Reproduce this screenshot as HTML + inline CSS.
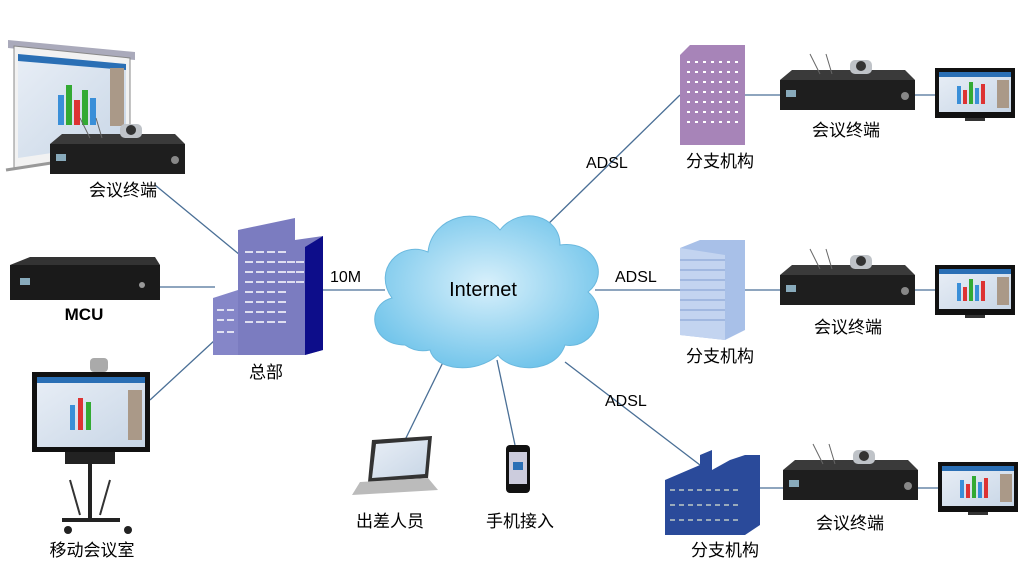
<!DOCTYPE html>
<html><head><meta charset="utf-8"><style>
body{margin:0;background:#fff;width:1024px;height:585px;overflow:hidden}
svg{display:block}
text{font-family:"Liberation Sans","Noto Sans CJK SC",sans-serif;fill:#000}
</style></head><body>
<svg width="1024" height="585" viewBox="0 0 1024 585">
<defs>
<radialGradient id="cl" cx="50%" cy="45%" r="60%"><stop offset="0" stop-color="#d8f0fb"/><stop offset="1" stop-color="#6ec3ea"/></radialGradient>
<linearGradient id="scr" x1="0" y1="0" x2="1" y2="1"><stop offset="0" stop-color="#e8eef6"/><stop offset="1" stop-color="#c8d6e6"/></linearGradient>
<g id="dev">
 <rect x="0" y="22" width="135" height="30" fill="#1e1e1e"/>
 <polygon points="0,22 12,12 125,12 135,22" fill="#3a3a3a"/>
 <rect x="70" y="2" width="22" height="14" rx="5" fill="#bfc3c8"/><circle cx="81" cy="8" r="5" fill="#333"/>
 <line x1="40" y1="16" x2="30" y2="-4" stroke="#666"/><line x1="52" y1="16" x2="46" y2="-4" stroke="#666"/>
 <rect x="6" y="32" width="10" height="7" fill="#8ab"/><circle cx="125" cy="38" r="4" fill="#888"/>
</g>
<g id="mon">
 <rect x="0" y="0" width="80" height="50" fill="#111"/>
 <rect x="4" y="4" width="72" height="40" fill="url(#scr)"/>
 <rect x="4" y="4" width="72" height="5" fill="#2a6fb5"/>
 <rect x="22" y="18" width="4" height="18" fill="#3a8fd8"/><rect x="28" y="22" width="4" height="14" fill="#d33"/><rect x="34" y="14" width="4" height="22" fill="#3a3"/>
 <rect x="40" y="20" width="4" height="16" fill="#3a8fd8"/><rect x="46" y="16" width="4" height="20" fill="#d33"/>
 <rect x="62" y="12" width="12" height="28" fill="#a98"/>
 <rect x="30" y="50" width="20" height="3" fill="#333"/>
</g>
</defs>
<g stroke="#4a6f96" stroke-width="1.3" fill="none">
<line x1="155" y1="185" x2="240" y2="255"/>
<line x1="160" y1="287" x2="215" y2="287"/>
<line x1="150" y1="400" x2="215" y2="340"/>
<line x1="323" y1="290" x2="385" y2="290"/>
<line x1="540" y1="232" x2="680" y2="95"/>
<line x1="595" y1="290" x2="680" y2="290"/>
<line x1="565" y1="362" x2="700" y2="465"/>
<line x1="448" y1="352" x2="405" y2="440"/>
<line x1="497" y1="360" x2="515" y2="445"/>
<line x1="745" y1="95" x2="780" y2="95"/><line x1="915" y1="95" x2="935" y2="95"/>
<line x1="745" y1="290" x2="780" y2="290"/><line x1="915" y1="290" x2="935" y2="290"/>
<line x1="760" y1="488" x2="785" y2="488"/><line x1="918" y1="488" x2="938" y2="488"/>
</g>
<path d="M405,345 C370,345 365,305 392,298 C372,270 400,240 428,252 C432,215 480,205 500,230 C520,205 560,215 560,245 C595,240 610,275 588,292 C610,310 595,350 565,345 C555,375 510,372 498,355 C475,375 435,370 430,350 C420,352 412,350 405,345 Z" fill="url(#cl)" stroke="#6ab8de"/>
<text x="483" y="296" font-size="20" text-anchor="middle">Internet</text>
<text x="330" y="282" font-size="16">10M</text>
<text x="586" y="168" font-size="16">ADSL</text>
<text x="615" y="282" font-size="16">ADSL</text>
<text x="605" y="406" font-size="16">ADSL</text>
<polygon points="238,230 295,218 295,240 323,236 323,350 305,355 238,355" fill="#7b7cc0"/>
<polygon points="305,247 323,236 323,350 305,355" fill="#0d0d8a"/>
<polygon points="213,298 238,290 238,355 213,355" fill="#8586c8"/>
<g stroke="#fff" stroke-width="1.5">
<path d="M245,252h8M256,252h8M267,252h8M278,252h8M245,262h8M256,262h8M267,262h8M278,262h8M245,272h8M256,272h8M267,272h8M278,272h8M245,282h8M256,282h8M267,282h8M278,282h8M245,292h8M256,292h8M267,292h8M278,292h8M245,302h8M256,302h8M267,302h8M278,302h8M245,312h8M256,312h8M267,312h8M278,312h8M245,322h8M256,322h8M267,322h8M278,322h8M287,262h8M296,262h8M287,272h8M296,272h8M287,282h8M296,282h8M217,310h7M227,310h7M217,320h7M227,320h7M217,332h7M227,332h7"/>
</g>
<text x="266" y="378" font-size="17" text-anchor="middle">总部</text>
<!-- projector -->
<polygon points="8,40 135,52 135,60 8,48" fill="#aab"/>
<polygon points="14,46 130,58 130,152 14,168" fill="#f2f2f2" stroke="#888"/>
<polygon points="18,54 126,64 126,142 18,158" fill="url(#scr)"/>
<polygon points="18,54 126,64 126,70 18,61" fill="#2a6fb5"/>
<rect x="58" y="95" width="6" height="30" fill="#3a8fd8"/><rect x="66" y="85" width="6" height="40" fill="#3a3"/><rect x="74" y="100" width="6" height="25" fill="#d33"/><rect x="82" y="90" width="6" height="35" fill="#3a3"/><rect x="90" y="98" width="6" height="27" fill="#3a8fd8"/>
<rect x="110" y="68" width="14" height="58" fill="#a98"/>
<line x1="6" y1="170" x2="135" y2="150" stroke="#999" stroke-width="3"/>
<use href="#dev" x="50" y="122"/>
<text x="123" y="196" font-size="17" text-anchor="middle">会议终端</text>
<polygon points="10,265 30,257 155,257 160,265" fill="#333"/>
<rect x="10" y="265" width="150" height="35" fill="#1a1a1a"/>
<rect x="20" y="278" width="10" height="7" fill="#8ab"/><circle cx="142" cy="285" r="3" fill="#999"/>
<text x="84" y="320" font-size="17" font-weight="bold" text-anchor="middle">MCU</text>
<rect x="90" y="358" width="18" height="14" rx="4" fill="#aaa"/>
<rect x="32" y="372" width="118" height="80" fill="#111"/>
<rect x="37" y="377" width="108" height="70" fill="url(#scr)"/>
<rect x="37" y="377" width="108" height="6" fill="#2a6fb5"/>
<rect x="70" y="405" width="5" height="25" fill="#3a8fd8"/><rect x="78" y="398" width="5" height="32" fill="#d33"/><rect x="86" y="402" width="5" height="28" fill="#3a3"/>
<rect x="128" y="390" width="14" height="50" fill="#a98"/>
<rect x="65" y="452" width="50" height="12" fill="#222"/>
<line x1="90" y1="464" x2="90" y2="520" stroke="#222" stroke-width="4"/>
<line x1="62" y1="520" x2="120" y2="520" stroke="#222" stroke-width="4"/>
<line x1="70" y1="480" x2="80" y2="515" stroke="#333" stroke-width="2"/>
<line x1="110" y1="480" x2="100" y2="515" stroke="#333" stroke-width="2"/>
<circle cx="68" cy="530" r="4" fill="#222"/><circle cx="128" cy="530" r="4" fill="#222"/>
<text x="92" y="556" font-size="17" text-anchor="middle">移动会议室</text>
<polygon points="372,440 432,436 428,478 368,482" fill="#333"/>
<polygon points="376,444 428,440 425,474 372,478" fill="url(#scr)"/>
<polygon points="360,482 428,478 438,490 352,495" fill="#bbb"/>
<text x="390" y="527" font-size="17" text-anchor="middle">出差人员</text>
<rect x="506" y="445" width="24" height="48" rx="4" fill="#111"/>
<rect x="509" y="452" width="18" height="32" fill="#ccd"/>
<rect x="513" y="462" width="10" height="8" fill="#2a6fb5"/>
<text x="520" y="527" font-size="17" text-anchor="middle">手机接入</text>
<polygon points="680,55 690,45 745,45 745,145 680,145" fill="#a784b8"/>
<g stroke="#fff" stroke-width="2" stroke-dasharray="3 5"><path d="M687,62h54M687,72h54M687,82h54M687,92h54M687,102h54M687,112h54M687,122h54"/></g>
<text x="720" y="167" font-size="17" text-anchor="middle">分支机构</text>
<polygon points="680,248 700,240 745,240 745,330 725,340 680,335" fill="#a8c0e8"/>
<polygon points="680,248 725,255 725,340 680,335" fill="#c3d4f0"/>
<g stroke="#7f9bd0" stroke-width="1"><path d="M680,260h45M680,270h45M680,280h45M680,290h45M680,300h45M680,310h45M680,320h45"/></g>
<text x="720" y="362" font-size="17" text-anchor="middle">分支机构</text>
<polygon points="665,480 700,465 700,455 712,450 712,470 730,460 745,455 760,455 760,525 745,535 665,535" fill="#2a4a9a"/>
<g stroke="#9ab" stroke-width="2" stroke-dasharray="5 4"><path d="M670,490h70M670,505h70M670,520h70"/></g>
<text x="725" y="556" font-size="17" text-anchor="middle">分支机构</text>
<use href="#dev" x="780" y="58"/><use href="#mon" x="935" y="68"/>
<text x="846" y="136" font-size="17" text-anchor="middle">会议终端</text>
<use href="#dev" x="780" y="253"/><use href="#mon" x="935" y="265"/>
<text x="848" y="333" font-size="17" text-anchor="middle">会议终端</text>
<use href="#dev" x="783" y="448"/><use href="#mon" x="938" y="462"/>
<text x="850" y="529" font-size="17" text-anchor="middle">会议终端</text>
</svg>
</body></html>
